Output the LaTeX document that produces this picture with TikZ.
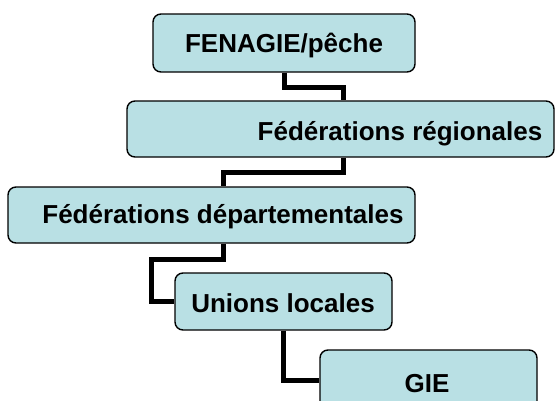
\documentclass[tikz,border=0pt]{standalone}
\usepackage{fontspec}
\setmainfont{Liberation Sans}
\usepackage{xcolor}
\usetikzlibrary{calc}
\definecolor{boxblue}{RGB}{185,224,228}
\tikzset{
  orgbox/.style  = { draw=black, line width=1.4pt, fill=boxblue, rounded corners=8pt,
                     inner sep=0pt },
  orgtext/.style = { anchor=base, inner sep=0pt, font=\fontsize{26}{30}\selectfont\bfseries },
  conn/.style    = { line width=5pt, black }
}
\begin{document}
\begin{tikzpicture}[x=1pt,y=-1pt]
  \useasboundingbox (0,0) rectangle (555,400);
  \clip (0,0) rectangle (555,400);
  % Draw all boxes
  \node[orgbox, minimum width=262, minimum height=58] (fen) at (284,43)    {};
  \node[orgbox, minimum width=427, minimum height=56] (reg) at (340.5,129) {};
  \node[orgbox, minimum width=407, minimum height=56] (dep) at (211.5,215) {};
  \node[orgbox, minimum width=217, minimum height=57] (uni) at (283.5,301.5) {};
  \node[orgbox, minimum width=217, minimum height=60] (gie) at (428.5,380) {};
  % Draw labels
  \node[orgtext] (fenlbl) at (284,52)  {FENAGIE/pêche};
  \node[orgtext] (reglbl) at (400,140) {Fédérations régionales};
  \node[orgtext] (deplbl) at (223,223) {Fédérations départementales};
  \node[orgtext] (unilbl) at (283,312) {Unions locales};
  \node[orgtext] (gielbl) at (427,392) {GIE};
  % Draw connectors
  \draw[conn] (fen.south) -- ++(0,15) -| ([xshift=2.5]reg.north);
  \draw[conn] ([xshift=2.5]reg.south) -- ++(0,15) -| ([xshift=11.5]dep.north);
  \draw[conn] ([xshift=11.5]dep.south) -- ++(0,16) -| ($(uni.west)+(-23,0)$) -- (uni.west);
  \draw[conn] (uni.south) |- (gie.west);
\end{tikzpicture}
\end{document}
